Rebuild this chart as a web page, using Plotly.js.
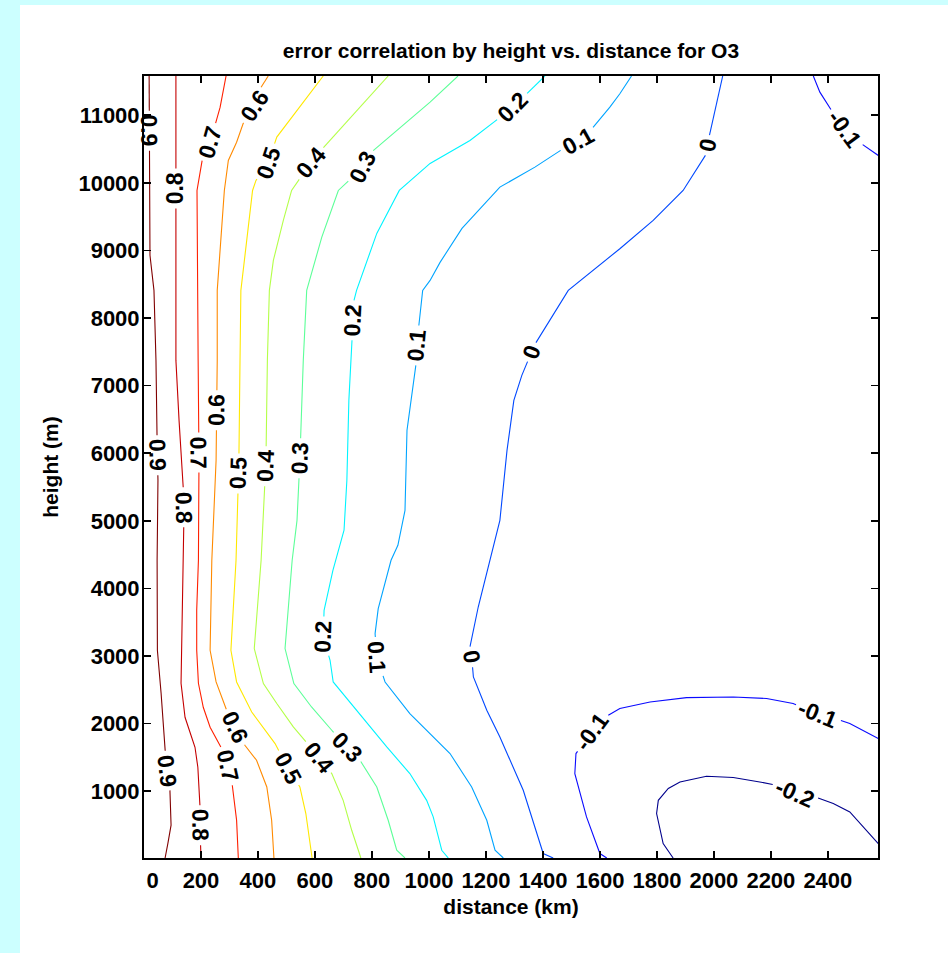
<!DOCTYPE html>
<html><head><meta charset="utf-8">
<script src="https://cdn.plot.ly/plotly-3.0.1.min.js"></script>
<style>
html,body{margin:0;padding:0;background:#ccffff;width:948px;height:953px;overflow:hidden;}
#chart{position:absolute;left:20px;top:5px;width:928px;height:948px;background:#fff;}
</style></head><body><div id="chart"></div>
<script>
// ---- data (distance in km, height in m) ----
const xTickVals = [0,200,400,600,800,1000,1200,1400,1600,1800,2000,2200,2400];
const xTickText = ['\u2002\u00a00','200','400','600','800','1000','1200','1400','1600','1800','2000','2200','2400'];
const yTickVals = [1000,2000,3000,4000,5000,6000,7000,8000,9000,10000,11000];
const yTickText = ['1000','2000','3000','4000','5000','6000','7000','8000','9000','10000','11000'];

const c09_km = [18,21,35,42,46,49,46,47,60,70,91,95,84,74];
const c09_m  = [11580,8927,8409,7373,6190,5599,4416,3085,2449,1753,1014,497,231,12];
const c08_km = [112,112,123,137,140,137,130,130,144,179,189,196,198,200];
const c08_m  = [11580,7373,6486,5599,5007,4416,3085,2597,2094,1650,1354,865,274,12];
const c07_km = [288,267,232,204,186,190,193,191,185,185,191,208,232,267,295,309,325,331];
const c07_m  = [11580,11115,10597,10331,9887,7373,5895,4416,3676,3085,2597,2242,1946,1680,1384,1118,570,12];
const c06_km = [436,413,390,348,325,296,282,267,257,257,253,238,232,253,290,319,354,395,431,448,456];
const c06_m  = [11580,11440,11144,10878,10601,10331,9887,9049,8409,7373,5895,4416,3085,2616,2198,1946,1680,1458,1063,570,12];
const c05_km = [629,466,435,393,381,360,340,337,333,323,305,325,378,460,506,547,568,588,590];
const c05_m  = [11580,10676,10286,10035,9887,9148,8409,7373,5895,4416,3085,2616,2172,1705,1335,1063,670,83,12];
const c04_km = [857,641,583,518,489,454,440,433,428,411,387,419,466,524,559,612,659,699,729,758,761];
const c04_m  = [11580,10578,10286,9887,9443,8852,8409,7373,5895,4416,3110,2592,2297,1951,1779,1507,1261,865,422,53,12];
const c03_km = [1102,1004,793,768,682,624,571,559,547,537,520,495,526,588,659,711,758,817,857,887,916];
const c03_m  = [11580,11193,10435,10228,9887,9197,8409,7373,5895,5007,4416,3110,2592,2246,1902,1655,1458,1063,570,127,12];
const c02_km = [1407,1331,1295,1249,1144,1004,896,817,746,737,730,719,712,702,663,632,629,653,664,746,852,933,992,1015,1045,1068];
const c02_m  = [11580,11267,11115,10967,10627,10287,9887,9252,8409,8261,7670,6782,5599,4860,4268,3676,3282,2937,2616,2198,1655,1261,865,620,127,12];
const c01_km = [1711,1670,1635,1577,1524,1471,1372,1249,1116,1039,1004,978,964,958,954,937,923,916,891,867,822,811,817,846,933,1074,1150,1203,1232,1261];
const c01_m  = [11580,11317,11119,10824,10627,10504,10232,9936,9325,8823,8556,8409,7866,7595,7300,6782,6339,5155,4637,4416,3701,3332,2986,2616,2149,1557,1063,570,127,12];
const c00_km = [2031,2010,1986,1980,1974,1892,1787,1670,1489,1366,1360,1326,1298,1274,1249,1214,1173,1144,1150,1156,1203,1249,1331,1401,1436];
const c00_m  = [11580,11169,10749,10553,10430,9887,9443,9025,8409,7570,7496,7152,6782,6042,5007,4416,3725,3134,2986,2690,2198,1803,1014,78,12];
const cm01a_km = [1624,1600,1553,1512,1516,1571,1624,1670,1776,1904,2068,2185,2278,2366,2436,2477,2577];
const cm01a_m  = [12,78,620,1261,1557,1877,2109,2223,2320,2385,2394,2371,2297,2149,2060,2001,1779];
const cm01b_km = [2349,2372,2413,2460,2518,2577];
const cm01b_m  = [11580,11341,11070,10800,10578,10405];
const cm02_km = [1857,1822,1799,1805,1840,1881,1974,2068,2161,2220,2286,2356,2419,2477,2524,2577];
const cm02_m  = [12,226,670,865,1040,1137,1222,1202,1137,1088,966,915,818,694,472,226];

const labelText = ['0.9','0.9','0.9','0.8','0.8','0.8','0.7','0.7','0.7','0.6','0.6','0.6','0.5','0.5','0.5','0.4','0.4','0.4','0.3','0.3','0.3','0.2','0.2','0.2','0.1','0.1','0.1','0','0','0','-0.1','-0.1','-0.1','-0.2'];
const labelKm = [31,52,91,116,144,196,232,203,298,386,256,319,435,337,505,586,432,611,768,554,712,1295,733,628,1523,958,817,1979,1361,1150,2460,1572,2366,2284];
const labelM  = [10770,5970,1310,9917,5200,497,10600,6010,1380,11140,6634,1946,10300,5700,1340,10290,5806,1500,10228,5925,1650,11115,7965,3290,10627,7595,2986,10553,7496,2986,10800,1870,2150,970];

// ---- styling ----
const contours = [
  {lvl:'0.9', color:'#800000', x:c09_km, y:c09_m},
  {lvl:'0.8', color:'#c40000', x:c08_km, y:c08_m},
  {lvl:'0.7', color:'#ff2000', x:c07_km, y:c07_m},
  {lvl:'0.6', color:'#ff8a00', x:c06_km, y:c06_m},
  {lvl:'0.5', color:'#ffe800', x:c05_km, y:c05_m},
  {lvl:'0.4', color:'#b4ff48', x:c04_km, y:c04_m},
  {lvl:'0.3', color:'#5cff98', x:c03_km, y:c03_m},
  {lvl:'0.2', color:'#00f4ff', x:c02_km, y:c02_m},
  {lvl:'0.1', color:'#00a4ff', x:c01_km, y:c01_m},
  {lvl:'0',   color:'#0048ff', x:c00_km, y:c00_m},
  {lvl:'-0.1',color:'#0a0aff', x:cm01a_km, y:cm01a_m},
  {lvl:'-0.1',color:'#0a0aff', x:cm01b_km, y:cm01b_m},
  {lvl:'-0.2',color:'#00008c', x:cm02_km, y:cm02_m}
];

const FONT = '"Liberation Sans", Arial, Helvetica, sans-serif';
const LABEL_SIZE = 23;
const W = 928, H = 948;
const M = {l:124, r:70, t:71, b:95};
const XR = [0, 2576], YR = [12, 11580];
const pw = W - M.l - M.r, ph = H - M.t - M.b;
const toPx = (x, y) => [(x - XR[0]) / (XR[1] - XR[0]) * pw, ph - (y - YR[0]) / (YR[1] - YR[0]) * ph];
const toData = (px, py) => [XR[0] + px / pw * (XR[1] - XR[0]), YR[0] + (ph - py) / ph * (YR[1] - YR[0])];

const ctx = document.createElement('canvas').getContext('2d');
ctx.font = 'bold ' + LABEL_SIZE + 'px ' + FONT;

// pixel geometry of each contour
contours.forEach(c => {
  c.px = c.x.map((x, i) => toPx(x, c.y[i]));
  c.cum = [0];
  for (let k = 1; k < c.px.length; k++) {
    c.cum.push(c.cum[k-1] + Math.hypot(c.px[k][0]-c.px[k-1][0], c.px[k][1]-c.px[k-1][1]));
  }
  c.gaps = [];
});

// snap labels onto their contour, align with local direction, and open a gap
const annotations = labelText.map((t, i) => {
  const [lx, ly] = toPx(labelKm[i], labelM[i]);
  let best = null;
  contours.filter(c => c.lvl === t).forEach(c => {
    for (let k = 0; k < c.px.length - 1; k++) {
      const [ax, ay] = c.px[k], [bx, by] = c.px[k+1];
      const dx = bx - ax, dy = by - ay, L2 = dx*dx + dy*dy;
      let u = L2 ? ((lx-ax)*dx + (ly-ay)*dy) / L2 : 0;
      u = Math.max(0, Math.min(1, u));
      const px = ax + u*dx, py = ay + u*dy;
      const d = (px-lx)**2 + (py-ly)**2;
      if (!best || d < best.d) best = {d, px, py, dx, dy, c, s: c.cum[k] + u*Math.sqrt(L2)};
    }
  });
  const half = ctx.measureText(t).width / 2 + 4;
  best.c.gaps.push([best.s - half, best.s + half]);
  let ang = Math.atan2(best.dy, best.dx) * 180 / Math.PI;
  while (ang >= 90) ang -= 180;
  while (ang < -90) ang += 180;
  const [dxv, dyv] = toData(best.px, best.py);
  return {x:dxv, y:dyv, xref:'x', yref:'y', text:t, showarrow:false, textangle:ang,
          font:{family:FONT, size:LABEL_SIZE, color:'#000', weight:'bold'}, borderpad:0};
});

function pointAt(c, s) {
  const total = c.cum[c.cum.length-1];
  s = Math.max(0, Math.min(total, s));
  let k = 0;
  while (k < c.cum.length - 2 && c.cum[k+1] < s) k++;
  const L = c.cum[k+1] - c.cum[k];
  const u = L ? (s - c.cum[k]) / L : 0;
  const p = [c.px[k][0] + u*(c.px[k+1][0]-c.px[k][0]), c.px[k][1] + u*(c.px[k+1][1]-c.px[k][1])];
  return toData(p[0], p[1]);
}

const traces = contours.map(c => {
  const inGap = s => c.gaps.some(g => s > g[0] && s < g[1]);
  const ev = c.cum.map((s, i) => ({s, t:'v', i}));
  c.gaps.forEach(g => { ev.push({s:g[0], t:'a'}); ev.push({s:g[1], t:'b'}); });
  ev.sort((a, b) => a.s - b.s || (a.t === 'v' ? -1 : 1));
  const total = c.cum[c.cum.length-1];
  const xs = [], ys = [];
  ev.forEach(e => {
    if (e.t === 'v') {
      if (!inGap(e.s)) { xs.push(c.x[e.i]); ys.push(c.y[e.i]); }
    } else if (e.t === 'a') {
      if (e.s > 0 && e.s < total) { const p = pointAt(c, e.s); xs.push(p[0]); ys.push(p[1]); }
      xs.push(null); ys.push(null);
    } else {
      if (e.s > 0 && e.s < total) { const p = pointAt(c, e.s); xs.push(p[0]); ys.push(p[1]); }
    }
  });
  return {type:'scatter', mode:'lines', x:xs, y:ys, connectgaps:false,
          line:{color:c.color, width:1.1}, hoverinfo:'skip', showlegend:false};
});

const axisCommon = {
  ticks:'inside', ticklen:7, tickwidth:1.5, tickcolor:'#000',
  showline:true, linewidth:2, linecolor:'#000', mirror:'ticks',
  showgrid:false, zeroline:false,
  tickfont:{family:FONT, size:22, color:'#000', weight:'bold'}
};

const layout = {
  width:W, height:H, margin:Object.assign({pad:0}, M),
  paper_bgcolor:'#ffffff', plot_bgcolor:'#ffffff',
  font:{family:FONT, size:21, color:'#000', weight:'bold'},
  title:{text:'error correlation by height vs. distance for O3',
         font:{family:FONT, size:21, color:'#000', weight:'bold'},
         x:0.5, xref:'paper', xanchor:'center', y:1 - 46/H, yref:'container', yanchor:'middle'},
  xaxis:Object.assign({}, axisCommon, {
    range:XR, tickvals:xTickVals, ticktext:xTickText, ticklabelstandoff:2,
    title:{text:'distance (km)', standoff:7, font:{family:FONT, size:21, color:'#000', weight:'bold'}}
  }),
  yaxis:Object.assign({}, axisCommon, {
    range:YR, tickvals:yTickVals, ticktext:yTickText, ticklabelstandoff:-2,
    title:{text:'height (m)', standoff:14, font:{family:FONT, size:21, color:'#000', weight:'bold'}}
  }),
  annotations:annotations
};

Plotly.newPlot('chart', traces, layout, {displayModeBar:false, staticPlot:true});
</script></body></html>
